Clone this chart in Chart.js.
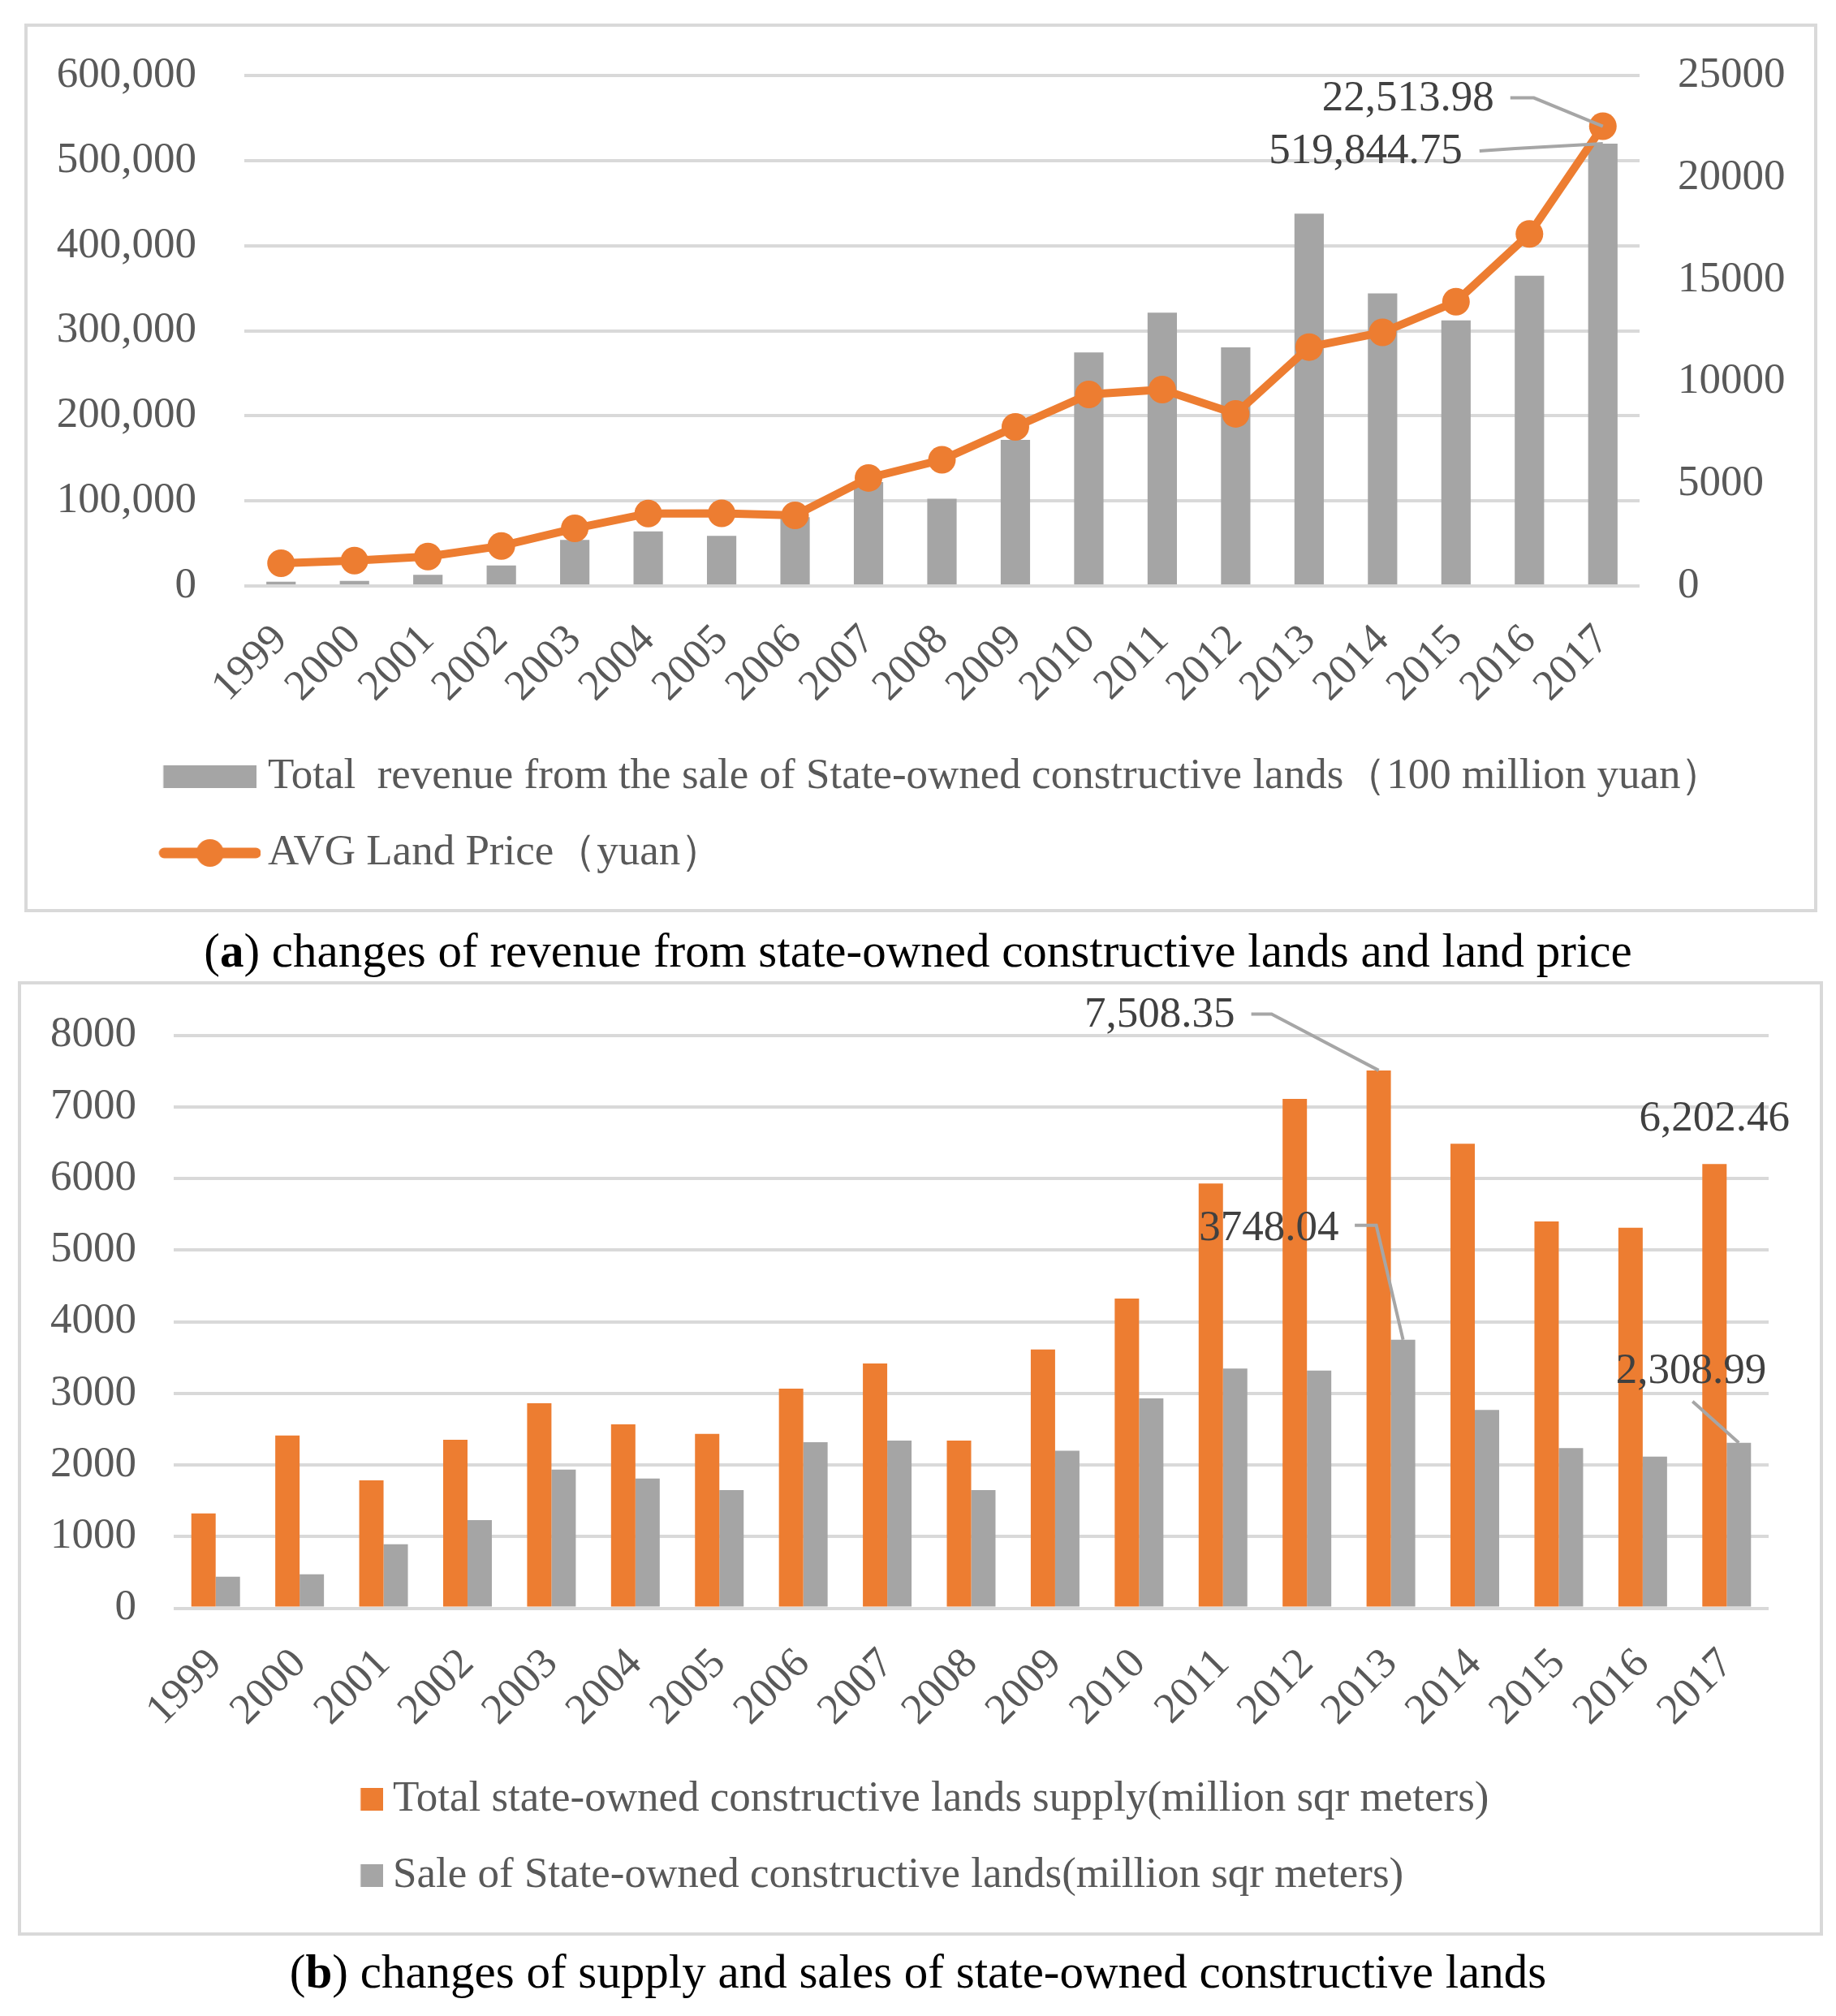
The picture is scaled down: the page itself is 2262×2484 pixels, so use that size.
<!DOCTYPE html>
<html>
<head>
<meta charset="utf-8">
<script src="https://cdn.jsdelivr.net/npm/chart.js@4.4.1/dist/chart.umd.min.js"></script>
<style>
  html, body { margin: 0; padding: 0; background: #fff; }
  body { position: relative; width: 2262px; height: 2484px; overflow: hidden; font-family: 'Liberation Serif', 'Times New Roman', serif; }
  .frame { position: absolute; box-sizing: border-box; border: 4px solid #d9d9d9; }
  canvas { position: absolute; left: 0; }
  .caption { position: absolute; left: 0; width: 2262px; text-align: center; font-size: 59px; line-height: 1; color: #000; white-space: nowrap; }
</style>
</head>
<body>
<div class="frame" style="left:30px;top:29px;width:2209px;height:1095px"></div>
<canvas id="chartA" width="2262" height="1124" style="top:0"></canvas>
<div class="caption" style="top:1142px">(<b>a</b>) changes of revenue from state-owned constructive lands and land price</div>

<div class="frame" style="left:22px;top:1209px;width:2224px;height:1176px"></div>
<canvas id="chartB" width="2262" height="1188" style="top:1197px"></canvas>
<div class="caption" style="top:2400px">(<b>b</b>) changes of supply and sales of state-owned constructive lands</div>

<script>
// Data
const years = ['1999', '2000', '2001', '2002', '2003', '2004', '2005', '2006', '2007', '2008',
    '2009', '2010', '2011', '2012', '2013', '2014', '2015', '2016', '2017'];

// (a) revenue (left axis) and average land price (right axis)
const revenue = [5100, 6000, 13000, 24200, 54200, 64100, 58800, 80800, 122200, 102600,
    171800, 274600, 321300, 280400, 437500, 343800, 312200, 364600, 519844.75];
const landPrice = [1110, 1240, 1440, 1960, 2820, 3550, 3560, 3460, 5290, 6180,
    7790, 9380, 9620, 8430, 11700, 12420, 13920, 17240, 22513.98];
const revenueTicks = [0, 100000, 200000, 300000, 400000, 500000, 600000];
const priceTicks = [0, 5000, 10000, 15000, 20000, 25000];

// (b) supply and sales of land
const landSupply = [1323, 2410, 1786, 2352, 2862, 2567, 2434, 3066, 3417, 2341,
    3612, 4323, 5930, 7111, 7508.35, 6485, 5399, 5311, 6202.46];
const landSale = [439, 473, 891, 1230, 1934, 1811, 1650, 2318, 2341, 1650,
    2197, 2930, 3347, 3317, 3748.04, 2769, 2236, 2115, 2308.99];
const areaTicks = [0, 1000, 2000, 3000, 4000, 5000, 6000, 7000, 8000];

const ORANGE = '#ed7d31';
const GRAY = '#a5a5a5';
const GRID = '#d9d9d9';
const FONT = "'Liberation Serif', 'Times New Roman', serif";
const FONT_SIZE = 53;

Chart.defaults.font.family = FONT;
Chart.defaults.font.size = FONT_SIZE;
Chart.defaults.color = '#595959';

// Legend swatch drawn into a small canvas, shifted by dx from the legend's point centre
function swatch(w, h, dx, draw) {
    const c = document.createElement('canvas');
    c.width = w + 2 * Math.abs(dx);
    c.height = h;
    const ctx = c.getContext('2d');
    ctx.translate(Math.abs(dx) + dx, 0);
    draw(ctx, w, h);
    return c;
}

const fmt = (grouping) => (v) => v.toLocaleString('en-US', {
    minimumFractionDigits: 2, maximumFractionDigits: 2, useGrouping: grouping
});

// Data labels with leader lines, placed relative to their bar / point
const callouts = {
    id: 'callouts',
    afterDatasetsDraw(chart, args, opts) {
        const ctx = chart.ctx;
        ctx.save();
        ctx.font = FONT_SIZE + 'px ' + FONT;
        ctx.textBaseline = 'middle';
        opts.items.forEach(c => {
            const el = chart.getDatasetMeta(c.dataset).data[c.index];
            const value = chart.data.datasets[c.dataset].data[c.index];
            if (c.leader) {
                ctx.strokeStyle = '#a6a6a6';
                ctx.lineWidth = 4;
                ctx.beginPath();
                c.leader.forEach(([lx, ly], k) => {
                    if (k === 0) ctx.moveTo(el.x + lx, el.y + ly);
                    else ctx.lineTo(el.x + lx, el.y + ly);
                });
                ctx.lineTo(el.x, el.y);
                ctx.stroke();
            }
            ctx.fillStyle = '#404040';
            ctx.textAlign = c.align;
            ctx.fillText(c.format(value), el.x + c.dx, el.y + c.dy);
        });
        ctx.restore();
    }
};

const useTicks = (list) => (scale) => {
    scale.ticks = list.map(v => ({ value: v }));
};

// Chart (a)
const swatchesA = [
    swatch(115, 28, 86.25, (ctx, w, h) => {
        ctx.fillStyle = GRAY;
        ctx.fillRect(0, 0, w, h);
    }),
    swatch(126, 36, 86.25, (ctx, w, h) => {
        ctx.strokeStyle = ORANGE;
        ctx.lineWidth = 13;
        ctx.lineCap = 'round';
        ctx.beginPath();
        ctx.moveTo(6.5, h / 2);
        ctx.lineTo(w - 6.5, h / 2);
        ctx.stroke();
        ctx.fillStyle = ORANGE;
        ctx.beginPath();
        ctx.arc(w / 2, h / 2, 17, 0, Math.PI * 2);
        ctx.fill();
    })
];

new Chart(document.getElementById('chartA'), {
    data: {
        labels: years,
        datasets: [{
            type: 'bar',
            label: 'Total  revenue from the sale of State-owned constructive lands（100 million yuan）',
            data: revenue,
            yAxisID: 'y',
            backgroundColor: GRAY,
            barPercentage: 0.4,
            categoryPercentage: 1,
            order: 1
        }, {
            type: 'line',
            label: 'AVG Land Price（yuan）',
            data: landPrice,
            yAxisID: 'y1',
            borderColor: ORANGE,
            backgroundColor: ORANGE,
            borderWidth: 10,
            pointRadius: 17,
            pointBackgroundColor: ORANGE,
            pointBorderWidth: 0,
            tension: 0,
            order: 0
        }]
    },
    options: {
        responsive: false,
        animation: false,
        devicePixelRatio: 1,
        layout: { padding: { top: 93, bottom: 36.5, left: 0, right: 0 } },
        scales: {
            x: {
                grid: { display: false, drawTicks: false },
                border: { display: false },
                ticks: { minRotation: 45, maxRotation: 45, autoSkip: false, padding: 36 },
                afterFit: (s) => { s.height = 167.5; }
            },
            y: {
                position: 'left',
                min: 0,
                max: 600000,
                grid: { color: GRID, lineWidth: 4, drawTicks: false },
                border: { display: false },
                ticks: { padding: 59, callback: (v) => v.toLocaleString('en-US') },
                afterBuildTicks: useTicks(revenueTicks),
                afterFit: (s) => { s.width = 301; }
            },
            y1: {
                position: 'right',
                min: 0,
                max: 25000,
                grid: { display: false, drawTicks: false },
                border: { display: false },
                ticks: { padding: 47, callback: (v) => String(v) },
                afterBuildTicks: useTicks(priceTicks),
                afterFit: (s) => { s.width = 242; }
            }
        },
        plugins: {
            tooltip: { enabled: false },
            legend: {
                position: 'bottom',
                align: 'start',
                labels: {
                    usePointStyle: true,
                    pointStyleWidth: 262.5,
                    padding: 41,
                    sort: (a, b) => a.datasetIndex - b.datasetIndex,
                    generateLabels: (chart) => Chart.defaults.plugins.legend.labels.generateLabels(chart)
                        .map(item => Object.assign(item, { pointStyle: swatchesA[item.datasetIndex] }))
                }
            },
            callouts: {
                items: [
                    { dataset: 1, index: 18, align: 'right', dx: -134, dy: -33, format: fmt(true),
                      leader: [[-114, -35], [-85, -35]] },
                    { dataset: 0, index: 18, align: 'right', dx: -173, dy: 10, format: fmt(true),
                      leader: [[-152, 9], [-108, 6]] }
                ]
            }
        }
    },
    plugins: [callouts]
});

// Chart (b)
const swatchesB = [ORANGE, GRAY].map(col => swatch(28, 28, 208.75, (ctx, w, h) => {
    ctx.fillStyle = col;
    ctx.fillRect(0, 0, w, h);
}));

new Chart(document.getElementById('chartB'), {
    type: 'bar',
    data: {
        labels: years,
        datasets: [{
            label: 'Total state-owned constructive lands supply(million sqr meters)',
            data: landSupply,
            backgroundColor: ORANGE,
            barPercentage: 1,
            categoryPercentage: 0.58
        }, {
            label: 'Sale of State-owned constructive lands(million sqr meters)',
            data: landSale,
            backgroundColor: GRAY,
            barPercentage: 1,
            categoryPercentage: 0.58
        }]
    },
    options: {
        responsive: false,
        animation: false,
        devicePixelRatio: 1,
        layout: { padding: { top: 78.5, bottom: 37.5, left: 0, right: 83 } },
        scales: {
            x: {
                grid: { display: false, drawTicks: false },
                border: { display: false },
                ticks: { minRotation: 45, maxRotation: 45, autoSkip: false, padding: 38 },
                afterFit: (s) => { s.height = 168; }
            },
            y: {
                min: 0,
                max: 8000,
                grid: { color: GRID, lineWidth: 4, drawTicks: false },
                border: { display: false },
                ticks: { padding: 46, callback: (v) => String(v) },
                afterBuildTicks: useTicks(areaTicks),
                afterFit: (s) => { s.width = 214; }
            }
        },
        plugins: {
            tooltip: { enabled: false },
            legend: {
                position: 'bottom',
                align: 'start',
                labels: {
                    usePointStyle: true,
                    pointStyleWidth: 416.5,
                    padding: 41,
                    generateLabels: (chart) => Chart.defaults.plugins.legend.labels.generateLabels(chart)
                        .map(item => Object.assign(item, { pointStyle: swatchesB[item.datasetIndex] }))
                }
            },
            callouts: {
                items: [
                    { dataset: 0, index: 14, align: 'right', dx: -177, dy: -68, format: fmt(true),
                      leader: [[-157, -69.5], [-132, -69.5]] },
                    { dataset: 1, index: 14, align: 'right', dx: -79, dy: -137, format: fmt(false),
                      leader: [[-59.5, -141], [-33, -141]] },
                    { dataset: 0, index: 18, align: 'center', dx: 0, dy: -55, format: fmt(true) },
                    { dataset: 1, index: 18, align: 'right', dx: 34, dy: -88, format: fmt(true),
                      leader: [[-57, -51]] }
                ]
            }
        }
    },
    plugins: [callouts]
});
</script>
</body>
</html>
